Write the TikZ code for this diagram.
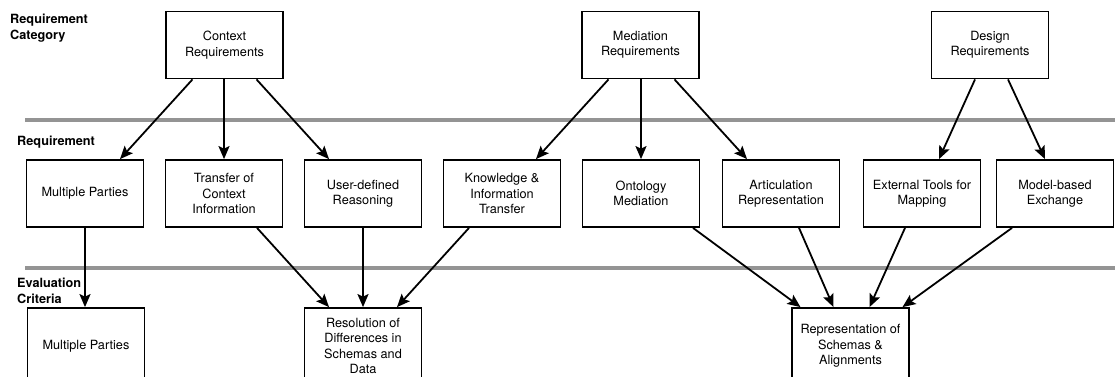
\documentclass[tikz,border=0pt]{standalone}
\usepackage{fontspec}
\setmainfont{TeX Gyre Heros}
\usetikzlibrary{arrows.meta}
\begin{document}
\begin{tikzpicture}[x=1pt,y=-1pt,
  box/.style={draw=black,line width=1.8pt,minimum width=117pt,minimum height=67pt,
    inner sep=2pt,align=center,font=\fontsize{12.7}{15.3}\selectfont},
  lowbox/.style={box,minimum height=76pt},
  arr/.style={line width=1.8pt,-{Stealth[length=13pt,width=11pt,inset=2.5pt]}},
  band/.style={line width=4pt,draw=black!42},
  lbl/.style={anchor=north west,inner sep=0pt,align=left,
    font=\fontsize{12.7}{16}\selectfont\bfseries}]
\useasboundingbox (0,0) rectangle (1115,376);
\clip (0,0) rectangle (1115,376);
\fill[white] (0,0) rectangle (1115,376);

% separators between the three tiers
\draw[band] (25,120) -- (1115,120);
\draw[band] (25,268) -- (1115,268);

% tier labels
\node[lbl] (lcat) at (10,13.4) {Requirement\\Category};
\node[lbl] (lreq) at (17,135.4) {Requirement};
\node[lbl] (leval) at (17,277.4) {Evaluation\\Criteria};

% requirement categories
\node[box] (ctx) at (224.5,45) {Context\\Requirements};
\node[box] (med) at (640.5,45) {Mediation\\Requirements};
\node[box] (des) at (990,45) {Design\\Requirements};

% requirements
\node[box] (mp)  at (85,193.5)  {Multiple Parties};
\node[box] (tci) at (224,193.5) {Transfer of\\Context\\Information};
\node[box] (udr) at (363,193.5) {User-defined\\Reasoning};
\node[box] (kit) at (502,193.5) {Knowledge \&\\Information\\Transfer};
\node[box] (ont) at (641,193.5) {Ontology\\Mediation};
\node[box] (art) at (781,193.5) {Articulation\\Representation};
\node[box] (ext) at (922,193.5) {External Tools for\\Mapping};
\node[box] (mbe) at (1055,193.5) {Model-based\\Exchange};

% evaluation criteria (their lower edges run past the page)
\node[lowbox] (mp2) at (86,346)  {Multiple Parties};
\node[lowbox] (res) at (363,346) {Resolution of\\Differences in\\Schemas and\\Data};
\node[lowbox] (rep) at (850.5,346) {Representation of\\Schemas \&\\Alignments};

% categories -> requirements
\draw[arr] ([xshift=-32pt]ctx.south) -- ([xshift=35pt]mp.north);
\draw[arr] ([xshift=-0.5pt]ctx.south) -- (tci.north);
\draw[arr] ([xshift=32pt]ctx.south) -- ([xshift=-34pt]udr.north);
\draw[arr] ([xshift=-32pt]med.south) -- ([xshift=34pt]kit.north);
\draw[arr] ([xshift=0.5pt]med.south) -- (ont.north);
\draw[arr] ([xshift=34pt]med.south) -- ([xshift=-34pt]art.north);
\draw[arr] ([xshift=-15pt]des.south) -- ([xshift=17pt]ext.north);
\draw[arr] ([xshift=18pt]des.south) -- ([xshift=-10pt]mbe.north);

% requirements -> evaluation criteria
\draw[arr] (mp.south) -- ([xshift=-1pt]mp2.north);
\draw[arr] ([xshift=33pt]tci.south) -- ([xshift=-34pt]res.north);
\draw[arr] (udr.south) -- (res.north);
\draw[arr] ([xshift=-33pt]kit.south) -- ([xshift=34pt]res.north);
\draw[arr] ([xshift=52pt]ont.south) -- ([xshift=-50pt]rep.north);
\draw[arr] ([xshift=18pt]art.south) -- ([xshift=-17pt]rep.north);
\draw[arr] ([xshift=-17pt]ext.south) -- ([xshift=19pt]rep.north);
\draw[arr] ([xshift=-43pt]mbe.south) -- ([xshift=52pt]rep.north);
\end{tikzpicture}
\end{document}
